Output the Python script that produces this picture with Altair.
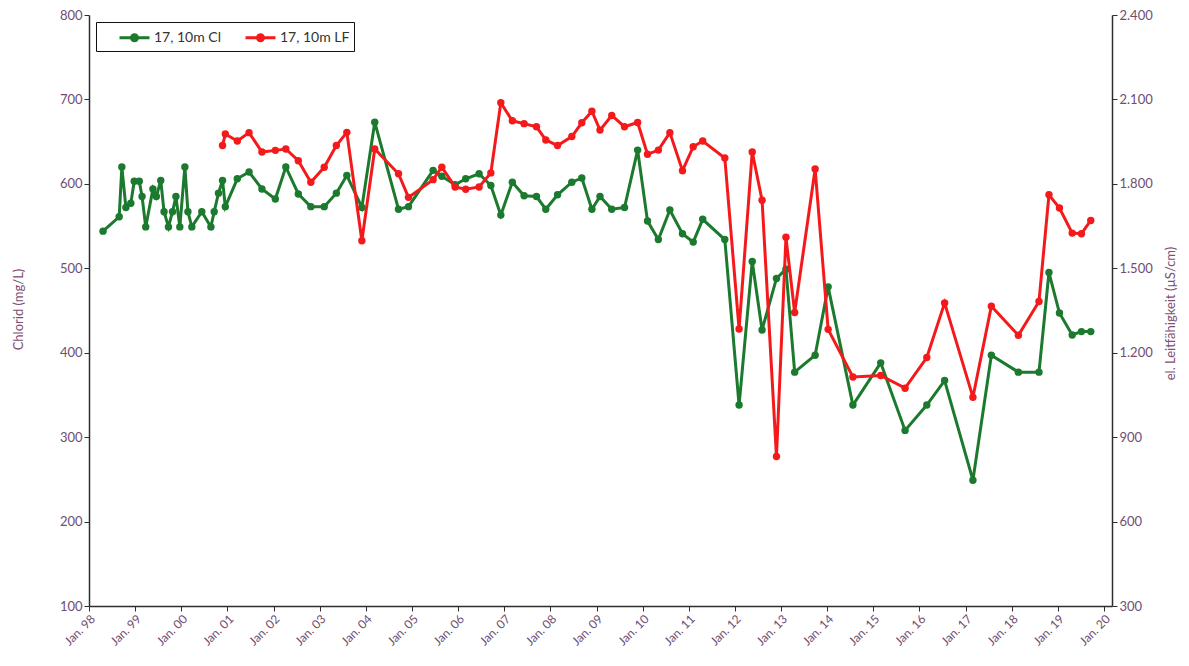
import altair as alt
import pandas as pd

# ---- data ----
cl_dates = [
    "1998-04-22", "1998-08-28", "1998-09-18", "1998-10-20", "1998-11-28", "1998-12-25",
    "1999-02-03", "1999-02-25", "1999-03-26", "1999-05-22", "1999-06-18", "1999-07-23",
    "1999-08-18", "1999-09-22", "1999-10-24", "1999-11-20", "1999-12-21", "2000-01-30",
    "2000-02-23", "2000-03-25", "2000-06-12", "2000-08-23", "2000-09-18", "2000-10-22",
    "2000-11-23", "2000-12-15", "2001-03-20", "2001-06-21", "2001-10-01", "2002-01-15",
    "2002-04-08", "2002-07-16", "2002-10-23", "2003-02-06", "2003-05-13", "2003-08-04",
    "2003-12-01", "2004-03-12", "2004-09-16", "2004-12-04", "2005-06-17", "2005-08-25",
    "2005-12-08", "2006-03-02", "2006-06-16", "2006-09-17", "2006-12-05", "2007-03-06",
    "2007-06-07", "2007-09-13", "2007-11-26", "2008-02-27", "2008-06-19", "2008-09-06",
    "2008-11-25", "2009-01-28", "2009-05-01", "2009-08-10", "2009-11-22", "2010-02-08",
    "2010-05-05", "2010-08-04", "2010-11-12", "2011-02-05", "2011-04-21", "2011-10-13",
    "2012-02-03", "2012-05-17", "2012-08-03", "2012-11-25", "2013-02-08", "2013-04-18",
    "2013-09-27", "2014-01-08", "2014-07-23", "2015-02-28", "2015-09-09", "2016-02-28",
    "2016-07-18", "2017-02-27", "2017-07-23", "2018-02-22", "2018-08-04", "2018-10-22",
    "2019-01-13", "2019-04-24", "2019-07-06", "2019-09-18",
]
cl_values = [
    544, 561, 620, 572, 577, 603,
    603, 585, 549, 594, 585, 604,
    567, 549, 567, 585, 549, 620,
    567, 549, 567, 549, 567, 589,
    604, 573, 606, 614, 594, 582,
    620, 588, 573, 573, 589, 610,
    572, 673, 570, 573, 616, 609,
    599, 606, 612, 598, 563, 602,
    586, 585, 570, 587, 602, 607,
    570, 585, 570, 572, 640, 556,
    534, 569, 541, 531, 558, 534,
    338, 508, 427, 488, 499, 377,
    397, 478, 338, 388, 308, 338,
    367, 249, 397, 377, 377, 495,
    447, 421, 425, 425,
]

lf_dates = [
    "2000-11-23", "2000-12-15", "2001-03-20", "2001-06-21", "2001-10-01", "2002-01-15",
    "2002-04-08", "2002-07-16", "2002-10-23", "2003-02-06", "2003-05-13", "2003-08-04",
    "2003-12-01", "2004-03-12", "2004-09-16", "2004-12-04", "2005-06-17", "2005-08-25",
    "2005-12-08", "2006-03-02", "2006-06-16", "2006-09-17", "2006-12-05", "2007-03-06",
    "2007-06-07", "2007-09-13", "2007-11-26", "2008-02-27", "2008-06-19", "2008-09-06",
    "2008-11-25", "2009-01-28", "2009-05-01", "2009-08-10", "2009-11-22", "2010-02-08",
    "2010-05-05", "2010-08-04", "2010-11-12", "2011-02-05", "2011-04-21", "2011-10-13",
    "2012-02-03", "2012-05-17", "2012-08-03", "2012-11-25", "2013-02-08", "2013-04-18",
    "2013-09-27", "2014-01-08", "2014-07-23", "2015-02-28", "2015-09-09", "2016-02-28",
    "2016-07-18", "2017-02-27", "2017-07-23", "2018-02-22", "2018-08-04", "2018-10-22",
    "2019-01-13", "2019-04-24", "2019-07-06", "2019-09-18",
]
lf_values = [
    1936, 1977, 1952, 1982, 1913, 1919,
    1924, 1882, 1806, 1859, 1936, 1983,
    1598, 1924, 1836, 1752, 1815, 1859,
    1789, 1781, 1789, 1839, 2088, 2024,
    2014, 2003, 1956, 1936, 1968, 2017,
    2058, 1991, 2043, 2003, 2018, 1905,
    1920, 1982, 1847, 1932, 1952, 1892,
    1284, 1913, 1742, 831, 1610, 1343,
    1853, 1283, 1114, 1119, 1074, 1183,
    1377, 1042, 1365, 1262, 1382, 1761,
    1714, 1625, 1623, 1670,
]

series_names = ["17, 10m Cl", "17, 10m LF"]
series_colors = ["#1b7a2e", "#f41a1c"]
cl_ticks = [100, 200, 300, 400, 500, 600, 700, 800]
lf_ticks = [300, 600, 900, 1200, 1500, 1800, 2100, 2400]

FONT = "Lato"
LABEL_COLOR = "#6e4e72"
TITLE_COLOR = "#7d4f74"
AXIS_COLOR = "#2e2e2e"

cl_df = pd.DataFrame({"date": cl_dates, "value": cl_values, "series": series_names[0]})
lf_df = pd.DataFrame({"date": lf_dates, "value": lf_values, "series": series_names[1]})

x_enc = alt.X(
    "date:T",
    scale=alt.Scale(
        type="utc",
        domain=[
            alt.DateTime(year=1998, month=1, date=1, utc=True),
            alt.DateTime(year=2020, month=3, date=4, utc=True),
        ],
    ),
    axis=alt.Axis(
        title=None,
        format="%b. %y",
        tickCount={"interval": "year", "step": 1},
        labelAngle=-45,
        labelColor=LABEL_COLOR,
        labelFontSize=12,
        labelFont=FONT,
        labelPadding=2,
        grid=False,
        tickSize=5,
        tickColor=AXIS_COLOR,
        domainColor=AXIS_COLOR,
        domainWidth=1.5,
        labelOverlap=False,
    ),
)

legend_symbol = "M-1.5,0L1.5,0M-0.3,0A0.3,0.3,0,1,0,0.3,0A0.3,0.3,0,1,0,-0.3,0Z"

color_enc = alt.Color(
    "series:N",
    scale=alt.Scale(domain=series_names, range=series_colors),
    legend=alt.Legend(
        title=None,
        orient="none",
        legendX=7,
        legendY=7,
        direction="horizontal",
        strokeColor="#111111",
        padding=4,
        symbolType=legend_symbol,
        symbolSize=400,
        symbolStrokeWidth=3,
        symbolOffset=23,
        labelOffset=8,
        columnPadding=5,
        labelFontSize=14,
        labelFont=FONT,
        labelColor="#333333",
    ),
)

y_cl = alt.Y(
    "value:Q",
    scale=alt.Scale(domain=[100, 800], nice=False, zero=False),
    axis=alt.Axis(
        title="Chlorid (mg/L)",
        values=cl_ticks,
        grid=False,
        labelColor=LABEL_COLOR,
        labelFontSize=13,
        labelFont=FONT,
        titleColor=TITLE_COLOR,
        titleFontSize=13,
        titleFont=FONT,
        titleFontWeight="normal",
        titleAngle=270,
        titleBaseline="middle",
        titleX=-71,
        titleY=294,
        tickSize=5,
        tickColor=AXIS_COLOR,
        domainColor=AXIS_COLOR,
        domainWidth=1.5,
    ),
)

y_lf = alt.Y(
    "value:Q",
    scale=alt.Scale(domain=[300, 2400], nice=False, zero=False),
    axis=alt.Axis(
        orient="right",
        title="el. Leitfähigkeit (µS/cm)",
        values=lf_ticks,
        labelExpr="replace(format(datum.value, ','), ',', '.')",
        grid=False,
        labelColor=LABEL_COLOR,
        labelFontSize=13,
        labelFont=FONT,
        titleColor=TITLE_COLOR,
        titleFontSize=13,
        titleFont=FONT,
        titleFontWeight="normal",
        titleAngle=270,
        titleBaseline="middle",
        titleX=58,
        titleY=298,
        tickSize=5,
        tickColor=AXIS_COLOR,
        domainColor=AXIS_COLOR,
        domainWidth=1.5,
    ),
)

green = alt.layer(
    alt.Chart(cl_df).mark_line(strokeWidth=3).encode(x=x_enc, y=y_cl, color=color_enc),
    alt.Chart(cl_df).mark_circle(size=55, opacity=1).encode(x=x_enc, y=y_cl, color=color_enc),
)
red = alt.layer(
    alt.Chart(lf_df).mark_line(strokeWidth=3).encode(x=x_enc, y=y_lf, color=color_enc),
    alt.Chart(lf_df).mark_circle(size=55, opacity=1).encode(x=x_enc, y=y_lf, color=color_enc),
)

chart = (
    alt.layer(green, red)
    .resolve_scale(y="independent")
    .properties(
        width=1023,
        height=591,
        autosize="none",
        padding={"left": 81, "top": 7, "right": 69, "bottom": 48},
        background="white",
    )
    .configure_view(stroke=None)
)

chart.save("out.html", embed_options={"renderer": "svg", "actions": False})
